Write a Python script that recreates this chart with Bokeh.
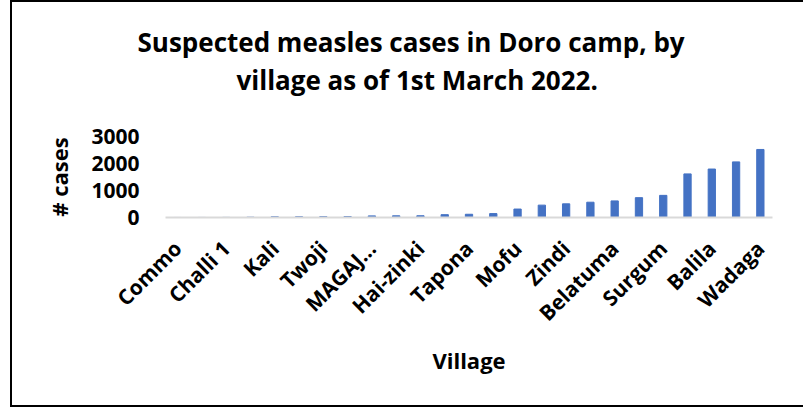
from bokeh.plotting import figure
from bokeh.models import ColumnDataSource, Range1d, FixedTicker, Title
from bokeh.embed import file_html
from bokeh.resources import INLINE

# 25 villages sorted by case count; only every other label is legible in the source
villages = ["Commo", "", "Challi 1", "", "Kali", "", "Twoji", "", "MAGAJ...", "",
            "Hai-zinki", "", "Tapona", "", "Mofu", "", "Zindi", "", "Belatuma", "",
            "Surgum", "", "Balila", "", "Wadaga"]
cases = [1, 2, 4, 12, 28, 30, 32, 35, 60, 62, 65, 105, 120, 145, 313, 458,
         506, 566, 615, 735, 820, 1615, 1795, 2060, 2520]
y_ticks = [0, 1000, 2000, 3000]
title_lines = ["Suspected measles cases in Doro camp, by",
               "village as of 1st March 2022."]

pos = list(range(len(villages)))
src = ColumnDataSource(dict(x=pos, cases=cases))

FONT = "Open Sans"

p = figure(width=793, height=407, output_backend="svg", toolbar_location=None,
           x_range=Range1d(-0.5, len(villages) - 0.5), y_range=Range1d(0, 3000),
           min_border_left=153, min_border_right=33, min_border_top=134,
           min_border_bottom=192, margin=(0, 0, 0, 10))
p.styles = {"border-left": "2px solid black", "border-top": "2px solid black",
            "border-bottom": "2px solid black"}

p.vbar(x="x", top="cases", width=0.3, source=src, color="#4472C4")

# blank spacer nearest the plot, then second title line, then first line
p.add_layout(Title(text=" ", text_font_size="1px", standoff=36), "above")
p.add_layout(Title(text=title_lines[1], align="left", offset=71, standoff=0,
                   text_font=FONT, text_font_size="26px", text_font_style="bold",
                   text_color="black"), "above")
p.add_layout(Title(text=title_lines[0], align="left", offset=-28, standoff=0,
                   text_font=FONT, text_font_size="26px", text_font_style="bold",
                   text_color="black"), "above")

p.outline_line_color = None
p.grid.visible = False
p.background_fill_color = "white"
p.border_fill_color = "white"

xa = p.xaxis[0]
xa.ticker = FixedTicker(ticks=[i for i, v in enumerate(villages) if v])
xa.major_label_overrides = {i: v for i, v in enumerate(villages) if v}
xa.major_label_orientation = 0.785398
xa.major_label_text_font = FONT
xa.major_label_text_font_size = "21px"
xa.major_label_text_font_style = "bold"
xa.major_label_text_color = "black"
xa.major_label_standoff = 21
xa.axis_line_color = "#D9D9D9"
xa.axis_line_width = 2
xa.major_tick_line_color = None
xa.minor_tick_line_color = None
xa.axis_label = "Village"
xa.axis_label_text_font = FONT
xa.axis_label_text_font_size = "22px"
xa.axis_label_text_font_style = "bold"
xa.axis_label_text_color = "black"
xa.axis_label_standoff = 6

ya = p.yaxis[0]
ya.ticker = FixedTicker(ticks=y_ticks)
ya.axis_line_color = None
ya.major_tick_line_color = None
ya.minor_tick_line_color = None
ya.major_label_text_font = FONT
ya.major_label_text_font_size = "21px"
ya.major_label_text_font_style = "bold"
ya.major_label_text_color = "black"
ya.major_label_standoff = 20
ya.axis_label = "# cases"
ya.axis_label_text_font = FONT
ya.axis_label_text_font_size = "22px"
ya.axis_label_text_font_style = "bold"
ya.axis_label_text_color = "black"
ya.axis_label_standoff = 14

open("out.html", "w").write(file_html(p, INLINE))
